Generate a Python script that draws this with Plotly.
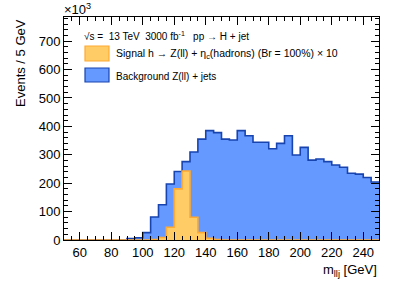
import numpy as np
import plotly.graph_objects as go

# ---- data ----
bin_width = 5
bin_lows = list(range(50, 250, 5))  # 40 bins, 50..245
signal = [0, 0, 0, 0, 0, 0, 0, 0,
          0, 0, 0, 2, 9, 45, 180, 243, 80, 26, 6, 2,
          0, 0, 0, 0, 0, 0, 0, 0, 0, 0, 0, 0, 0, 0, 0, 0, 0, 0, 0, 0]
background = [0, 0, 0, 0, 0, 0, 0, 0,
              5, 8, 26, 81, 124, 197, 241, 276, 310, 355, 385, 378,
              355, 352, 385, 367, 344, 344, 321, 340, 367, 299, 326, 281,
              285, 276, 264, 256, 235, 232, 220, 204]
x_ticks = list(range(60, 241, 20))
y_ticks = list(range(0, 701, 100))

FONT = "Liberation Sans, Arial, Helvetica, sans-serif"

def step_xy(lows, vals, w):
    xs = list(lows) + [lows[-1] + w]
    ys = list(vals) + [vals[-1]]
    return xs, ys

fig = go.Figure()
bx, by = step_xy(bin_lows, background, bin_width)
fig.add_trace(go.Scatter(x=bx, y=by, mode="lines", line=dict(shape="hv", color="#1844b0", width=1.6),
                         fill="tozeroy", fillcolor="#6699ff", hoverinfo="skip", showlegend=False))
sx, sy = step_xy(bin_lows, signal, bin_width)
fig.add_trace(go.Scatter(x=sx, y=sy, mode="lines", line=dict(shape="hv", color="#ffaa33", width=1.6),
                         fill="tozeroy", fillcolor="#ffcc66", hoverinfo="skip", showlegend=False))

W, H = 399, 286
L, R, T, B = 64, 20, 17, 46
pw, ph = W - L - R, H - T - B

def px(xp):
    return (xp - L) / pw

def py(yp):
    return 1 - (yp - T) / ph

axis_common = dict(showgrid=False, zeroline=False, showline=True, linecolor="black", linewidth=1,
                   mirror="allticks", ticks="inside", ticklen=8, tickcolor="black", tickwidth=1,
                   tickfont=dict(family=FONT, size=13, color="black"))

fig.update_xaxes(range=[50, 250], tickvals=x_ticks, ticktext=[str(v) for v in x_ticks],
                 minor=dict(ticks="inside", ticklen=4, dtick=5, tick0=50, tickcolor="black", showgrid=False),
                 **axis_common)
fig.update_yaxes(range=[0, 785], tickvals=y_ticks, ticktext=[str(v) for v in y_ticks],
                 minor=dict(ticks="inside", ticklen=4, dtick=20, tick0=0, tickcolor="black", showgrid=False),
                 **axis_common)

ann = []
ann.append(dict(text="Events / 5 GeV", textangle=-90, xref="paper", yref="paper",
                x=px(20), y=1, xanchor="center", yanchor="top", showarrow=False,
                font=dict(family=FONT, size=13, color="black")))
ann.append(dict(text="m<sub>llj</sub> [GeV]", xref="paper", yref="paper",
                x=1, y=py(270), xanchor="right", yanchor="middle", showarrow=False,
                font=dict(family=FONT, size=13, color="black")))
ann.append(dict(text="×10<sup>3</sup>", xref="paper", yref="paper",
                x=px(62), y=py(9), xanchor="left", yanchor="middle", showarrow=False,
                font=dict(family=FONT, size=13, color="black")))
ann.append(dict(text="√s =  13 TeV  3000 fb<sup>-1</sup>   pp → H + jet", xref="paper", yref="paper",
                x=px(82), y=py(36), xanchor="left", yanchor="middle", showarrow=False,
                font=dict(family=FONT, size=10, color="black")))
ann.append(dict(text="Signal h → Z(ll) + η<sub>c</sub>(hadrons) (Br = 100%) × 10", xref="paper", yref="paper",
                x=px(114), y=py(54), xanchor="left", yanchor="middle", showarrow=False,
                font=dict(family=FONT, size=10.5, color="black")))
ann.append(dict(text="Background Z(ll) + jets", xref="paper", yref="paper",
                x=px(114), y=py(76), xanchor="left", yanchor="middle", showarrow=False,
                font=dict(family=FONT, size=10, color="black")))

shapes = [
    dict(type="rect", xref="paper", yref="paper", x0=px(85), x1=px(109), y0=py(61), y1=py(46),
         fillcolor="#ffcc66", line=dict(color="#ffaa33", width=1.2)),
    dict(type="rect", xref="paper", yref="paper", x0=px(85), x1=px(109), y0=py(82), y1=py(68),
         fillcolor="#6699ff", line=dict(color="#1844b0", width=1.2)),
]

fig.update_layout(width=W, height=H, margin=dict(l=L, r=R, t=T, b=B),
                  paper_bgcolor="white", plot_bgcolor="white",
                  annotations=ann, shapes=shapes, showlegend=False)

fig.write_html("out.html", config={"displayModeBar": False},
               post_script="document.body.style.margin='0';document.body.style.padding='0';")
